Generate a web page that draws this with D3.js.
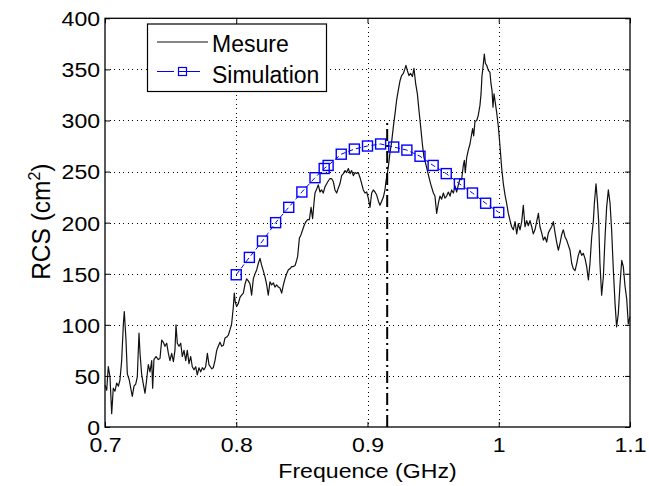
<!DOCTYPE html>
<html><head><meta charset="utf-8">
<script src="https://cdn.jsdelivr.net/npm/d3@7"></script>
<style>body{margin:0;background:#fff} svg{display:block}</style>
</head><body><svg id="c" width="649" height="486"></svg>
<script>
const measFreq = [0.7000,0.7013,0.7025,0.7038,0.7051,0.7063,0.7076,0.7089,0.7102,0.7114,0.7127,0.7140,0.7147,0.7160,0.7170,0.7185,0.7196,0.7208,0.7221,0.7234,0.7246,0.7259,0.7267,0.7279,0.7292,0.7305,0.7317,0.7330,0.7343,0.7356,0.7363,0.7373,0.7389,0.7406,0.7419,0.7432,0.7444,0.7457,0.7470,0.7483,0.7495,0.7508,0.7521,0.7533,0.7541,0.7551,0.7564,0.7577,0.7589,0.7602,0.7615,0.7627,0.7640,0.7653,0.7665,0.7678,0.7691,0.7703,0.7716,0.7729,0.7742,0.7754,0.7767,0.7780,0.7792,
0.7813,0.7825,0.7838,0.7851,0.7863,0.7876,0.7889,0.7902,0.7914,0.7927,0.7940,0.7952,0.7965,0.7978,0.7985,0.7993,0.8003,0.8016,0.8029,0.8041,0.8054,0.8067,0.8079,0.8092,0.8105,0.8117,0.8130,0.8143,0.8156,0.8168,0.8181,0.8194,0.8206,0.8219,0.8232,0.8244,0.8257,0.8270,0.8283,0.8295,0.8308,0.8321,0.8333,0.8346,0.8359,0.8371,0.8384,0.8397,0.8410,0.8422,0.8435,0.8448,0.8460,0.8468,0.8481,0.8493,0.8506,0.8519,0.8531,0.8544,0.8557,0.8570,0.8582,0.8592,0.8600,0.8613,0.8625,0.8638,0.8651,0.8663,
0.8676,0.8689,0.8702,0.8714,0.8727,0.8740,0.8752,0.8765,0.8778,0.8790,0.8803,0.8816,0.8829,0.8841,0.8854,0.8867,0.8879,0.8892,0.8905,0.8917,0.8930,0.8943,0.8956,0.8968,0.8981,0.8994,0.9006,0.9019,0.9032,0.9044,0.9057,0.9070,0.9083,0.9095,0.9108,0.9121,0.9133,0.9141,0.9146,0.9159,0.9171,0.9184,0.9197,0.9210,0.9222,0.9235,0.9248,0.9260,0.9273,0.9286,0.9293,0.9303,0.9316,0.9329,0.9342,0.9354,0.9367,0.9380,0.9392,0.9405,0.9418,0.9430,0.9443,0.9456,0.9469,0.9481,
0.9502,0.9514,0.9527,0.9540,0.9552,0.9565,0.9578,0.9590,0.9603,0.9616,0.9629,0.9641,0.9654,0.9667,0.9679,0.9692,0.9705,0.9717,0.9730,0.9738,0.9745,0.9756,0.9768,0.9781,0.9794,0.9801,0.9809,0.9819,0.9832,0.9844,0.9857,0.9865,0.9872,0.9883,0.9890,0.9898,0.9908,0.9921,0.9933,0.9941,0.9949,0.9956,0.9964,0.9974,0.9984,0.9997,1.0010,1.0022,1.0035,1.0048,1.0060,1.0073,1.0086,1.0098,1.0111,1.0124,1.0137,1.0149,1.0162,1.0175,1.0187,1.0200,1.0213,1.0225,1.0238,1.0251,1.0263,1.0276,1.0289,1.0302,1.0314,
1.0327,1.0340,1.0352,1.0365,1.0378,1.0390,1.0403,1.0416,1.0429,1.0441,1.0454,1.0467,1.0479,1.0492,1.0505,1.0517,1.0530,1.0543,1.0556,1.0568,1.0581,1.0594,1.0606,1.0619,1.0632,1.0644,1.0657,1.0670,1.0683,1.0695,1.0708,1.0721,1.0728,1.0741,1.0751,1.0761,1.0771,1.0784,1.0797,1.0810,1.0822,1.0835,1.0848,1.0860,1.0873,1.0886,1.0898,1.0911,1.0924,1.0937,1.0949,1.0962,1.0975,1.0987,1.1000];
const measRcs = [41,36,59,49,13,38,35,43,40,46,65,101,113,85,52,46,38,30,40,42,49,92,72,52,42,33,46,61,54,65,38,66,69,66,67,85,83,79,82,72,65,72,64,75,100,82,79,82,69,75,65,75,62,69,59,56,59,51,58,54,58,56,59,72,61,
57,58,65,75,79,83,79,80,87,88,90,95,101,118,131,122,118,121,127,129,131,140,145,143,140,129,145,150,154,160,165,158,153,147,139,129,142,139,141,137,139,137,136,131,139,145,150,154,155,157,157,158,163,167,185,188,193,198,201,203,203,215,204,219,229,233,237,230,232,229,
235,238,241,243,243,240,232,229,234,238,246,248,251,249,253,248,251,246,249,248,249,244,238,232,229,230,224,215,229,232,230,227,221,217,221,225,232,241,244,255,268,279,294,307,320,330,339,344,346,351,354,349,344,346,343,351,336,326,310,294,277,264,258,251,244,238,
229,226,209,219,226,223,229,224,226,230,226,232,229,236,230,237,243,242,256,261,249,264,271,277,287,292,285,299,300,305,315,326,343,356,365,356,354,349,347,336,329,313,326,317,308,294,274,254,238,227,219,209,202,196,193,201,189,199,193,201,217,196,202,197,202,196,189,193,201,209,196,
190,183,186,181,190,193,196,201,190,181,173,180,188,193,186,183,178,173,160,155,153,160,168,173,168,170,165,157,144,160,186,202,218,238,222,202,160,129,147,186,215,232,219,193,154,121,98,111,140,163,157,138,125,101,108];
const simFreq = [0.80,0.81,0.82,0.83,0.84,0.85,0.86,0.867,0.87,0.88,0.89,0.90,0.91,0.92,0.93,0.94,0.95,0.96,0.97,0.98,0.99,1.00];
const simRcs = [149,166,182,200,215,230,244,253,256,267,272,275,277,274,271,265,256,248,238,229,219,210];
const xTicks = [0.7,0.8,0.9,1,1.1];
const yTicks = [0,50,100,150,200,250,300,350,400];
const seriesNames = ["Mesure","Simulation"];
const markFreq = [0.915, 0.915];
const markRcs = [0, 300];

const svg = d3.select("#c");
svg.append("rect").attr("width",649).attr("height",486).attr("fill","#fff");
const L=105,R=630,T=18.3,B=427;
const x = d3.scaleLinear().domain([0.7,1.1]).range([L,R]);
const y = d3.scaleLinear().domain([0,400]).range([B,T]);
const FONT = "'Liberation Sans', Arial, sans-serif";
const SX = 1.1;

// grid
const grid = svg.append("g").attr("stroke","#000").attr("stroke-width",1).attr("stroke-dasharray","1,3.5").attr("shape-rendering","crispEdges");
grid.selectAll(".gx").data(xTicks.slice(1,-1)).join("line")
  .attr("x1",d=>Math.round(x(d))+0.5).attr("x2",d=>Math.round(x(d))+0.5).attr("y1",T).attr("y2",B);
grid.selectAll(".gy").data(yTicks.slice(1,-1)).join("line")
  .attr("y1",d=>Math.round(y(d))+0.5).attr("y2",d=>Math.round(y(d))+0.5).attr("x1",L).attr("x2",R);

// axes
const ax = svg.append("g").attr("transform",`translate(0,${B})`)
  .call(d3.axisBottom(x).tickValues(xTicks).tickSize(-5).tickFormat(d3.format("")));
ax.select(".domain").remove();
ax.selectAll("text").attr("y",25).attr("dy",null).attr("transform",`scale(${SX},1)`)
  .attr("font-size",21).attr("font-family",FONT).attr("fill","#000");
const at = svg.append("g").attr("transform",`translate(0,${T})`)
  .call(d3.axisTop(x).tickValues(xTicks).tickSize(-5).tickFormat(""));
at.select(".domain").remove();
const ay = svg.append("g").attr("transform",`translate(${L},0)`)
  .call(d3.axisLeft(y).tickValues(yTicks).tickSize(-5));
ay.select(".domain").remove();
ay.selectAll("text").attr("x",-4.5).attr("dy","0.35em").attr("transform",`scale(${SX},1)`)
  .attr("font-size",21).attr("font-family",FONT).attr("fill","#000");
const ar = svg.append("g").attr("transform",`translate(${R},0)`)
  .call(d3.axisRight(y).tickValues(yTicks).tickSize(-5).tickFormat(""));
ar.select(".domain").remove();
svg.selectAll(".tick line").attr("stroke","#000");

// box
svg.append("rect").attr("x",L).attr("y",T).attr("width",R-L).attr("height",B-T)
  .attr("fill","none").attr("stroke","#000").attr("stroke-width",1.3);

// measure line
const meas = measFreq.map((f,i)=>[f,measRcs[i]]);
svg.append("path").datum(meas)
  .attr("d",d3.line().x(d=>x(d[0])).y(d=>y(d[1])))
  .attr("fill","none").attr("stroke","#111").attr("stroke-width",1.2).attr("stroke-linejoin","round");

// simulation
const sim = simFreq.map((f,i)=>[f,simRcs[i]]);
svg.append("path").datum(sim)
  .attr("d",d3.line().x(d=>x(d[0])).y(d=>y(d[1])))
  .attr("fill","none").attr("stroke","#0000ff").attr("stroke-width",1).attr("stroke-dasharray","5,3");
svg.append("g").selectAll("rect").data(sim).join("rect")
  .attr("x",d=>x(d[0])-5).attr("y",d=>y(d[1])-5).attr("width",10).attr("height",10)
  .attr("fill","none").attr("stroke","#0000ff").attr("stroke-width",1.4);

// marker dash-dot line
svg.append("line").attr("x1",x(markFreq[0])).attr("x2",x(markFreq[1]))
  .attr("y1",y(markRcs[0])).attr("y2",y(markRcs[1]))
  .attr("stroke","#000").attr("stroke-width",2).attr("stroke-dasharray","12,4,2,4");

// labels
svg.append("g").attr("transform",`translate(${(L+R)/2},478) scale(${SX},1)`)
  .append("text").attr("text-anchor","middle").attr("font-family",FONT).attr("font-size",21)
  .attr("fill","#000").text("Frequence (GHz)");
const yl = svg.append("g").attr("transform",`translate(50,${(T+B)/2 - 1}) scale(1.05,1) rotate(-90)`)
  .append("text").attr("text-anchor","middle").attr("font-family",FONT).attr("font-size",24.5).attr("fill","#000");
yl.append("tspan").text("RCS (cm");
yl.append("tspan").attr("dy",-10).attr("font-size",16).text("2");
yl.append("tspan").attr("dy",10).text(")");

// legend
const lg = svg.append("g");
lg.append("rect").attr("x",147.5).attr("y",24).attr("width",179).attr("height",67.5)
  .attr("fill","#fff").attr("stroke","#000").attr("stroke-width",1.2);
lg.append("line").attr("x1",157).attr("x2",208).attr("y1",42).attr("y2",42)
  .attr("stroke","#111").attr("stroke-width",1.2);
lg.append("line").attr("x1",157).attr("x2",208).attr("y1",71.5).attr("y2",71.5)
  .attr("stroke","#0000ff").attr("stroke-width",1).attr("stroke-dasharray","17,9");
lg.append("rect").attr("x",178.5).attr("y",67.5).attr("width",8).attr("height",8)
  .attr("fill","#fff").attr("stroke","#0000ff").attr("stroke-width",1.2);
lg.append("line").attr("x1",178.5).attr("x2",186.5).attr("y1",71.5).attr("y2",71.5)
  .attr("stroke","#0000ff").attr("stroke-width",1);
lg.selectAll("text").data(seriesNames).join("text")
  .attr("x",212).attr("y",(d,i)=>i?83:51.5)
  .attr("font-family",FONT).attr("font-size",23).attr("fill","#000").text(d=>d);
</script></body></html>
